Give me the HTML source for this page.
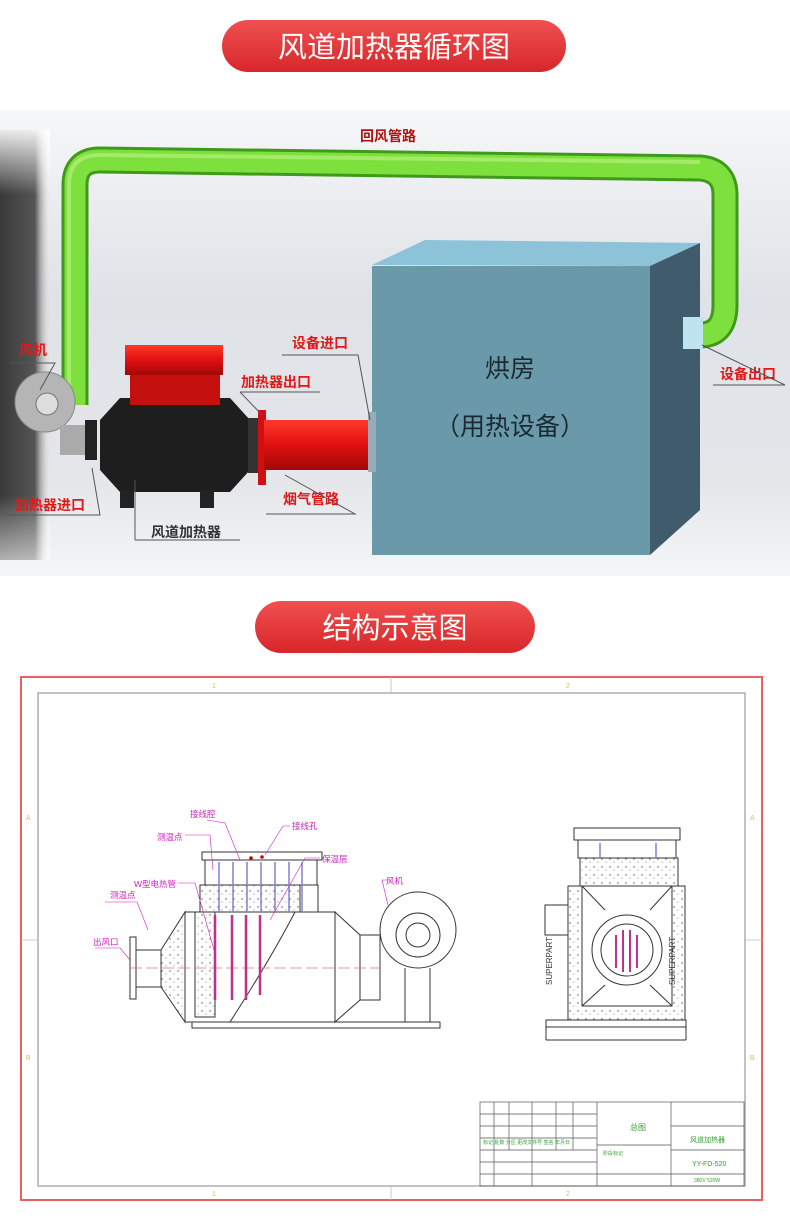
<!DOCTYPE html>
<html><head><meta charset="utf-8"><style>
html,body{margin:0;padding:0;background:#fff;width:790px;height:1223px;overflow:hidden}
svg{display:block}
text{font-family:"Liberation Sans","Noto Sans CJK SC",sans-serif}
</style></head><body>
<svg width="790" height="1223" viewBox="0 0 790 1223" xmlns="http://www.w3.org/2000/svg">
<defs>
<linearGradient id="bg" x1="0" y1="0" x2="0" y2="1"><stop offset="0" stop-color="#f6f7f8"/><stop offset="0.4" stop-color="#dfe2e7"/><stop offset="0.8" stop-color="#e4e6ea"/><stop offset="1" stop-color="#f5f6f7"/></linearGradient>
<linearGradient id="wall" x1="0" y1="0" x2="1" y2="0"><stop offset="0" stop-color="#3a3a3a"/><stop offset="0.7" stop-color="#555"/><stop offset="1" stop-color="#ddd" stop-opacity="0"/></linearGradient>
<linearGradient id="wallv" x1="0" y1="0" x2="0" y2="1"><stop offset="0" stop-color="#fff" stop-opacity="0.9"/><stop offset="0.15" stop-color="#fff" stop-opacity="0"/><stop offset="0.85" stop-color="#fff" stop-opacity="0"/><stop offset="1" stop-color="#fff" stop-opacity="0.6"/></linearGradient>
<linearGradient id="ban" x1="0" y1="0" x2="0" y2="1"><stop offset="0" stop-color="#f05050"/><stop offset="1" stop-color="#d8262a"/></linearGradient>
<linearGradient id="red" x1="0" y1="0" x2="0" y2="1"><stop offset="0" stop-color="#ff3a2a"/><stop offset="0.5" stop-color="#e01010"/><stop offset="1" stop-color="#a00808"/></linearGradient>
<pattern id="dots" width="8" height="8" patternUnits="userSpaceOnUse"><rect width="8" height="8" fill="#fff"/><circle cx="2" cy="3" r="0.7" fill="#555"/><circle cx="6" cy="6" r="0.5" fill="#555"/></pattern>
</defs>
<rect x="222" y="20" width="344" height="52" rx="26" fill="url(#ban)"/>
<text x="394" y="57" font-size="29" fill="#fff" text-anchor="middle">风道加热器循环图</text>
<rect x="0" y="110" width="790" height="466" fill="url(#bg)"/>
<rect x="0" y="130" width="50" height="430" fill="url(#wall)"/>
<rect x="0" y="130" width="50" height="430" fill="url(#wallv)"/>
<path d="M75 405 L75 185 Q75 160 100 160 L700 168 Q725 170 725 195 L725 305 Q725 335 700 335" fill="none" stroke="#3f9a1c" stroke-width="27"/>
<path d="M75 405 L75 185 Q75 160 100 160 L700 168 Q725 170 725 195 L725 305 Q725 335 700 335" fill="none" stroke="#7ee03c" stroke-width="21"/>
<path d="M69 400 L69 185 Q69 155 100 155 L700 162" fill="none" stroke="#b4f07a" stroke-width="4" opacity="0.7"/>
<polygon points="372,265 425,240 700,243 650,266" fill="#8dc3d9"/>
<polygon points="650,266 700,243 700,510 650,555" fill="#3f5b6c"/>
<rect x="372" y="266" width="278" height="289" fill="#6a9aaa"/>
<rect x="683" y="317" width="20" height="32" fill="#bfe4ef"/>
<text x="510" y="377" font-size="25" fill="#1a2a30" text-anchor="middle">烘房</text>
<text x="510" y="435" font-size="25" fill="#1a2a30" text-anchor="middle">（用热设备）</text>
<circle cx="45" cy="402" r="30" fill="#b5b5b5" stroke="#888"/>
<circle cx="47" cy="404" r="11" fill="#ddd" stroke="#777"/>
<rect x="60" y="425" width="30" height="30" fill="#aaa"/>
<rect x="85" y="420" width="12" height="40" fill="#222"/>
<polygon points="100,420 120,398 230,398 250,420 250,470 230,492 120,492 100,470" fill="#1e1e1e"/>
<rect x="120" y="490" width="14" height="18" fill="#222"/><rect x="200" y="490" width="14" height="18" fill="#222"/>
<rect x="125" y="345" width="98" height="30" fill="url(#red)"/>
<rect x="130" y="375" width="90" height="30" fill="#c51010"/>
<rect x="248" y="418" width="14" height="55" fill="#333"/>
<rect x="258" y="410" width="8" height="75" fill="#d01010"/>
<rect x="264" y="420" width="108" height="50" fill="url(#red)"/>
<rect x="368" y="412" width="8" height="60" fill="#9ab"/>
<g font-size="14" fill="#e01818" font-weight="bold">
<text x="360" y="141" fill="#b01010">回风管路</text>
<text x="19" y="355">风机</text>
<text x="241" y="387">加热器出口</text>
<text x="292" y="348">设备进口</text>
<text x="720" y="379">设备出口</text>
<text x="283" y="504">烟气管路</text>
<text x="15" y="510">加热器进口</text>
<text x="151" y="537" fill="#333">风道加热器</text>
</g>
<g stroke="#555" fill="none" stroke-width="1">
<path d="M10 363 L55 363 L40 390"/>
<path d="M240 392 L320 392"/>
<path d="M240 392 L262 415"/>
<path d="M282 355 L358 355 L370 420"/>
<path d="M713 385 L785 385 L702 345"/>
<path d="M266 514 L355 514 L285 475"/>
<path d="M5 515 L100 515 L92 468"/>
<path d="M135 540 L240 540"/><path d="M135 540 L135 480"/>
</g>
<rect x="255" y="601" width="280" height="52" rx="26" fill="url(#ban)"/>
<text x="395" y="638" font-size="29" fill="#fff" text-anchor="middle">结构示意图</text>
<rect x="21" y="677" width="741" height="523" fill="#fff" stroke="#e86060" stroke-width="2"/>
<rect x="38" y="693" width="707" height="493" fill="none" stroke="#999" stroke-width="1.2"/>
<g stroke="#bbb" stroke-width="0.8"><line x1="391" y1="677" x2="391" y2="693"/><line x1="391" y1="1186" x2="391" y2="1200"/><line x1="21" y1="940" x2="38" y2="940"/><line x1="745" y1="940" x2="762" y2="940"/></g>
<g font-size="7" fill="#d8c060"><text x="212" y="688">1</text><text x="566" y="688">2</text><text x="212" y="1196">1</text><text x="566" y="1196">2</text><text x="26" y="820">A</text><text x="750" y="820">A</text><text x="26" y="1060">B</text><text x="750" y="1060">B</text></g>
<g stroke="#333" stroke-width="1" fill="none">
<rect x="130" y="937" width="6" height="62" fill="#fff"/>
<rect x="136" y="950" width="25" height="37"/>
<polygon points="161,950 185,912 185,1022 161,987" fill="url(#dots)"/>
<rect x="185" y="912" width="150" height="110" fill="#fff"/>
<rect x="195" y="912" width="20" height="105" fill="url(#dots)"/>
<rect x="200" y="885" width="100" height="27" fill="url(#dots)"/>
<rect x="200" y="885" width="118" height="27"/>
<rect x="202" y="852" width="120" height="8"/><rect x="205" y="860" width="112" height="25"/>
<path d="M295 912 Q270 960 230 1022"/>
<polygon points="335,912 360,935 360,1000 335,1022" fill="#fff"/>
<rect x="360" y="935" width="20" height="65"/>
<circle cx="418" cy="930" r="38" fill="#fff"/><circle cx="418" cy="935" r="22"/><circle cx="418" cy="935" r="12"/>
<line x1="405" y1="968" x2="405" y2="1022"/><line x1="430" y1="968" x2="430" y2="1022"/>
<rect x="192" y="1022" width="248" height="6"/>
</g>
<line x1="130" y1="968" x2="380" y2="968" stroke="#e07070" stroke-dasharray="12 4" stroke-width="0.8"/>
<g stroke="#c03090" stroke-width="2.5">
<line x1="215" y1="915" x2="215" y2="1000"/><line x1="232" y1="915" x2="232" y2="1000"/><line x1="246" y1="915" x2="246" y2="1000"/><line x1="260" y1="915" x2="260" y2="995"/>
</g>
<g stroke="#8080d0" stroke-width="1.5">
<line x1="219" y1="862" x2="219" y2="912"/><line x1="233" y1="862" x2="233" y2="912"/><line x1="247" y1="862" x2="247" y2="912"/><line x1="261" y1="862" x2="261" y2="912"/><line x1="275" y1="862" x2="275" y2="912"/><line x1="289" y1="862" x2="289" y2="912"/><line x1="302" y1="862" x2="302" y2="912"/>
</g>
<circle cx="251" cy="858" r="1.8" fill="#c00"/><circle cx="262" cy="857" r="1.8" fill="#c00"/>
<g font-size="8.5" fill="#d020c0">
<text x="190" y="817">接线腔</text><text x="292" y="829">接线孔</text><text x="157" y="840">测温点</text><text x="322" y="862">保温层</text><text x="134" y="887">W型电热管</text><text x="110" y="898">测温点</text><text x="386" y="884">风机</text><text x="93" y="945">出风口</text>
</g>
<g stroke="#d020c0" stroke-width="0.6" fill="none">
<path d="M207 820 L225 823 L240 860"/><path d="M290 826 L283 826 L265 855"/><path d="M185 835 L210 835 L213 870"/><path d="M320 858 L305 858 L270 920"/><path d="M178 883 L195 883 L214 950"/><path d="M105 902 L137 902 L148 930"/><path d="M390 880 L382 880 L388 905"/><path d="M95 948 L120 948 L130 960"/>
</g>
<g stroke="#333" stroke-width="1" fill="none">
<rect x="574" y="828" width="106" height="12"/><rect x="578" y="840" width="98" height="18"/>
<rect x="580" y="858" width="98" height="28" fill="url(#dots)"/>
<rect x="568" y="886" width="117" height="134" fill="url(#dots)"/>
<rect x="582" y="886" width="90" height="120" fill="#fff"/>
<line x1="582" y1="886" x2="605" y2="910"/><line x1="672" y1="886" x2="650" y2="910"/><line x1="582" y1="1006" x2="605" y2="985"/><line x1="672" y1="1006" x2="650" y2="985"/>
<circle cx="627" cy="950" r="35"/><circle cx="627" cy="950" r="26"/>
<rect x="545" y="905" width="23" height="30"/>
<rect x="546" y="1020" width="140" height="7"/><line x1="546" y1="1027" x2="546" y2="1040"/><line x1="686" y1="1027" x2="686" y2="1040"/><line x1="546" y1="1040" x2="686" y2="1040"/>
</g>
<g stroke="#8080d0" stroke-width="1.5"><line x1="600" y1="843" x2="600" y2="858"/><line x1="656" y1="843" x2="656" y2="858"/></g>
<g stroke="#c03090" stroke-width="2"><line x1="616" y1="935" x2="616" y2="968"/><line x1="623" y1="930" x2="623" y2="972"/><line x1="630" y1="930" x2="630" y2="972"/><line x1="637" y1="935" x2="637" y2="968"/></g>
<text x="552" y="985" font-size="8" fill="#333" transform="rotate(-90 552 985)">SUPERPART</text>
<text x="675" y="985" font-size="8" fill="#333" transform="rotate(-90 675 985)">SUPERPART</text>
<g stroke="#555" stroke-width="0.7" fill="none">
<rect x="480" y="1102" width="264" height="84"/>
<line x1="597" y1="1102" x2="597" y2="1186"/><line x1="671" y1="1102" x2="671" y2="1186"/>
<line x1="480" y1="1114" x2="597" y2="1114"/><line x1="480" y1="1126" x2="597" y2="1126"/><line x1="480" y1="1138" x2="597" y2="1138"/><line x1="480" y1="1150" x2="597" y2="1150"/><line x1="480" y1="1162" x2="597" y2="1162"/><line x1="480" y1="1174" x2="597" y2="1174"/>
<line x1="494" y1="1102" x2="494" y2="1186"/><line x1="509" y1="1102" x2="509" y2="1150"/><line x1="532" y1="1102" x2="532" y2="1186"/><line x1="556" y1="1102" x2="556" y2="1150"/><line x1="573" y1="1102" x2="573" y2="1150"/>
<line x1="597" y1="1145" x2="671" y2="1145"/><line x1="597" y1="1174" x2="671" y2="1174"/><line x1="671" y1="1126" x2="744" y2="1126"/><line x1="671" y1="1150" x2="744" y2="1150"/><line x1="671" y1="1174" x2="744" y2="1174"/>
</g>
<g font-size="7" fill="#30a030"><text x="630" y="1130" font-size="8">总图</text><text x="690" y="1142">风道加热器</text><text x="692" y="1166">YY-FD-520</text><text x="694" y="1182" font-size="5">380V 520W</text><text x="603" y="1155" font-size="5">阶段标记</text><text x="483" y="1144" font-size="5">标记 处数 分区 更改文件号 签名 年月日</text></g>
</svg>
</body></html>
